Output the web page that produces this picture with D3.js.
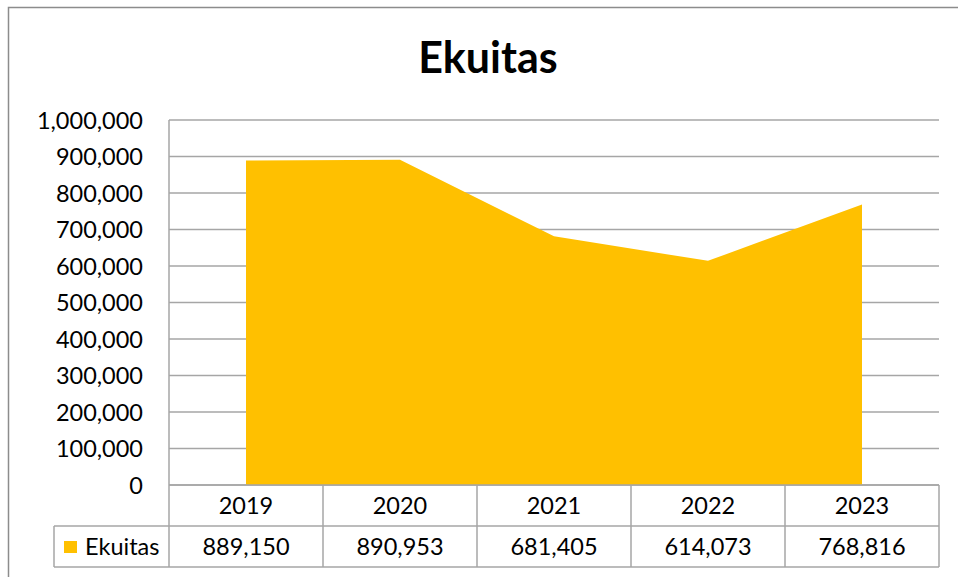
<!DOCTYPE html>
<html>
<head>
<meta charset="utf-8">
<script src="https://cdn.jsdelivr.net/npm/d3@7"></script>
<style>
  body { margin: 0; background: #fff; }
  text { font-family: "Lato", "Open Sans", sans-serif; fill: #000; }
</style>
</head>
<body>
<svg id="chart" width="958" height="577"></svg>
<script>
// data
const years = ["2019", "2020", "2021", "2022", "2023"]
const ekuitas = [889150, 890953, 681405, 614073, 768816]
const seriesName = "Ekuitas"
const yTicks = [0, 100000, 200000, 300000, 400000, 500000, 600000, 700000, 800000, 900000, 1000000]

const svg = d3.select("#chart")
const gridColor = "#a6a6a6"
const fmt = d3.format(",")

// plot area
const plotLeft = 169, plotRight = 939, plotTop = 120, plotBottom = 485
const rowH = 41
const labelSize = "23.5px"

// outer border of the chart
svg.append("rect")
  .attr("x", 8.5).attr("y", 7.5)
  .attr("width", 1000).attr("height", 1000)
  .attr("fill", "none").attr("stroke", "#8c8c8c").attr("stroke-width", 1.5)

svg.append("text")
  .attr("x", 488).attr("y", 73)
  .attr("text-anchor", "middle")
  .style("font-size", "43px").style("font-weight", "bold")
  .text(seriesName)

const x = d3.scaleBand().domain(years).range([plotLeft, plotRight])
const y = d3.scaleLinear().domain([0, 1000000]).range([plotBottom, plotTop])

// horizontal gridlines
svg.append("g")
  .selectAll("line")
  .data(yTicks)
  .enter()
  .append("line")
  .attr("x1", plotLeft).attr("x2", plotRight)
  .attr("y1", d => y(d)).attr("y2", d => y(d))
  .attr("stroke", gridColor).attr("stroke-width", 1.5)

// y tick labels
svg.append("g")
  .selectAll("text")
  .data(yTicks)
  .enter()
  .append("text")
  .attr("x", 143)
  .attr("y", d => y(d) + 8.5)
  .attr("text-anchor", "end")
  .style("font-size", labelSize)
  .text(d => fmt(d))

// the area
const area = d3.area()
  .x((d, i) => x(years[i]) + x.bandwidth() / 2)
  .y0(y(0))
  .y1(d => y(d))

svg.append("path")
  .datum(ekuitas)
  .attr("fill", "#ffc000")
  .attr("d", area)

// data table
const tg = svg.append("g").attr("stroke", gridColor).attr("stroke-width", 1.5)
// left edge of plot / table
tg.append("line").attr("x1", plotLeft).attr("x2", plotLeft).attr("y1", plotTop).attr("y2", plotBottom + 2 * rowH)
// vertical cell separators
tg.selectAll(".v")
  .data(years)
  .enter()
  .append("line")
  .attr("x1", d => x(d) + x.bandwidth()).attr("x2", d => x(d) + x.bandwidth())
  .attr("y1", plotBottom).attr("y2", plotBottom + 2 * rowH)
// rows
tg.append("line").attr("x1", plotLeft).attr("x2", plotRight).attr("y1", plotBottom).attr("y2", plotBottom)
tg.append("line").attr("x1", 54).attr("x2", plotRight).attr("y1", plotBottom + rowH).attr("y2", plotBottom + rowH)
tg.append("line").attr("x1", 54).attr("x2", plotRight).attr("y1", plotBottom + 2 * rowH).attr("y2", plotBottom + 2 * rowH)
tg.append("line").attr("x1", 54).attr("x2", 54).attr("y1", plotBottom + rowH).attr("y2", plotBottom + 2 * rowH)

svg.append("g")
  .selectAll("text")
  .data(years)
  .enter()
  .append("text")
  .attr("x", d => x(d) + x.bandwidth() / 2)
  .attr("y", plotBottom + 29)
  .attr("text-anchor", "middle")
  .style("font-size", labelSize)
  .text(d => d)

svg.append("g")
  .selectAll("text")
  .data(ekuitas)
  .enter()
  .append("text")
  .attr("x", (d, i) => x(years[i]) + x.bandwidth() / 2)
  .attr("y", plotBottom + rowH + 29)
  .attr("text-anchor", "middle")
  .style("font-size", labelSize)
  .text(d => fmt(d))

// legend key
svg.append("rect")
  .attr("x", 64).attr("y", 541)
  .attr("width", 13).attr("height", 12)
  .attr("fill", "#ffc000")
svg.append("text")
  .attr("x", 85).attr("y", plotBottom + rowH + 29)
  .style("font-size", labelSize)
  .text(seriesName)
</script>
</body>
</html>
